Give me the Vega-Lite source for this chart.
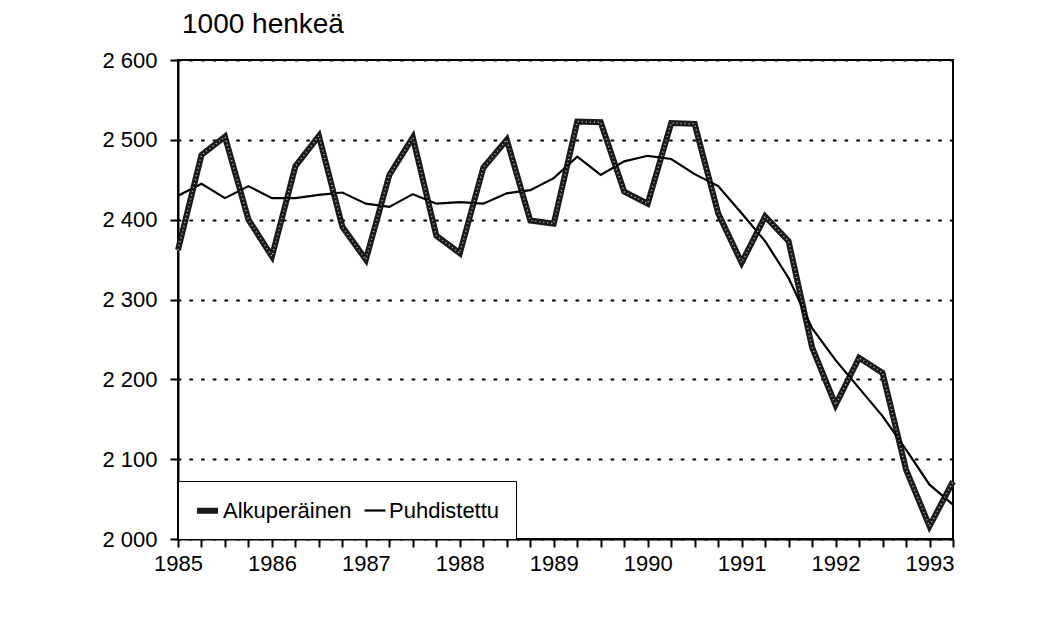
{
  "$schema": "https://vega.github.io/schema/vega-lite/v6.json",
  "width": 775,
  "height": 479,
  "autosize": {"type": "none"},
  "padding": {"left": 178, "top": 60, "right": 95, "bottom": 79},
  "background": "white",
  "title": {
    "text": "1000 henkeä",
    "anchor": "start",
    "frame": "group",
    "fontSize": 28,
    "fontWeight": "normal",
    "font": "Liberation Sans",
    "color": "black",
    "dx": 4,
    "offset": 10
  },
  "config": {
    "font": "Liberation Sans",
    "view": {"stroke": "black", "strokeWidth": 2},
    "axis": {
      "labelFont": "Liberation Sans",
      "labelFontSize": 22,
      "labelColor": "black",
      "domainColor": "black",
      "domainWidth": 2,
      "tickColor": "black",
      "tickWidth": 2,
      "tickSize": 8,
      "titleFontSize": 0
    }
  },
  "data": {
    "values": [
      {"t": 1985, "Alkuperäinen": 2362, "Puhdistettu": 2430},
      {"t": 1985.25, "Alkuperäinen": 2481, "Puhdistettu": 2445},
      {"t": 1985.5, "Alkuperäinen": 2504, "Puhdistettu": 2427},
      {"t": 1985.75, "Alkuperäinen": 2400, "Puhdistettu": 2442},
      {"t": 1986, "Alkuperäinen": 2354, "Puhdistettu": 2427},
      {"t": 1986.25, "Alkuperäinen": 2467, "Puhdistettu": 2427},
      {"t": 1986.5, "Alkuperäinen": 2505, "Puhdistettu": 2431},
      {"t": 1986.75, "Alkuperäinen": 2391, "Puhdistettu": 2434},
      {"t": 1987, "Alkuperäinen": 2350, "Puhdistettu": 2420},
      {"t": 1987.25, "Alkuperäinen": 2456, "Puhdistettu": 2416},
      {"t": 1987.5, "Alkuperäinen": 2503, "Puhdistettu": 2432},
      {"t": 1987.75, "Alkuperäinen": 2380, "Puhdistettu": 2420},
      {"t": 1988, "Alkuperäinen": 2358, "Puhdistettu": 2422},
      {"t": 1988.25, "Alkuperäinen": 2465, "Puhdistettu": 2420},
      {"t": 1988.5, "Alkuperäinen": 2500, "Puhdistettu": 2433},
      {"t": 1988.75, "Alkuperäinen": 2399, "Puhdistettu": 2437},
      {"t": 1989, "Alkuperäinen": 2395, "Puhdistettu": 2452},
      {"t": 1989.25, "Alkuperäinen": 2523, "Puhdistettu": 2479},
      {"t": 1989.5, "Alkuperäinen": 2522, "Puhdistettu": 2456},
      {"t": 1989.75, "Alkuperäinen": 2435, "Puhdistettu": 2473},
      {"t": 1990, "Alkuperäinen": 2420, "Puhdistettu": 2480},
      {"t": 1990.25, "Alkuperäinen": 2521, "Puhdistettu": 2476},
      {"t": 1990.5, "Alkuperäinen": 2520, "Puhdistettu": 2457},
      {"t": 1990.75, "Alkuperäinen": 2408, "Puhdistettu": 2442},
      {"t": 1991, "Alkuperäinen": 2346, "Puhdistettu": 2408},
      {"t": 1991.25, "Alkuperäinen": 2404, "Puhdistettu": 2373},
      {"t": 1991.5, "Alkuperäinen": 2373, "Puhdistettu": 2327},
      {"t": 1991.75, "Alkuperäinen": 2240, "Puhdistettu": 2264},
      {"t": 1992, "Alkuperäinen": 2168, "Puhdistettu": 2224},
      {"t": 1992.25, "Alkuperäinen": 2227, "Puhdistettu": 2189},
      {"t": 1992.5, "Alkuperäinen": 2208, "Puhdistettu": 2154},
      {"t": 1992.75, "Alkuperäinen": 2087, "Puhdistettu": 2112},
      {"t": 1993, "Alkuperäinen": 2016, "Puhdistettu": 2068},
      {"t": 1993.25, "Alkuperäinen": 2072, "Puhdistettu": 2043}
    ]
  },
  "transform": [
    {"fold": ["Alkuperäinen", "Puhdistettu"], "as": ["sarja", "arvo"]}
  ],
  "encoding": {
    "x": {
      "field": "t",
      "type": "quantitative",
      "scale": {"domain": [1985, 1993.25], "nice": false, "zero": false},
      "axis": {
        "title": null,
        "grid": false,
        "values": [1985, 1985.25, 1985.5, 1985.75, 1986, 1986.25, 1986.5, 1986.75, 1987, 1987.25, 1987.5, 1987.75, 1988, 1988.25, 1988.5, 1988.75, 1989, 1989.25, 1989.5, 1989.75, 1990, 1990.25, 1990.5, 1990.75, 1991, 1991.25, 1991.5, 1991.75, 1992, 1992.25, 1992.5, 1992.75, 1993, 1993.25],
        "labelExpr": "datum.value % 1 == 0 ? format(datum.value, 'd') : ''",
        "labelPadding": 6,
        "labelFlush": false,
        "labelOverlap": false
      }
    },
    "y": {
      "field": "arvo",
      "type": "quantitative",
      "scale": {"domain": [2000, 2600], "nice": false, "zero": false},
      "axis": {
        "title": null,
        "values": [2000, 2100, 2200, 2300, 2400, 2500, 2600],
        "labelExpr": "replace(format(datum.value, ','), ',', ' ')",
        "labelPadding": 13,
        "grid": true,
        "gridColor": "black",
        "gridWidth": 2,
        "gridDash": [2, 9.7],
        "gridCap": "round",
        "labelFlush": false
      }
    }
  },
  "layer": [
    {
      "mark": {"type": "line", "strokeJoin": "miter", "strokeCap": "butt"},
      "encoding": {
        "color": {
          "field": "sarja",
          "type": "nominal",
          "scale": {"domain": ["Alkuperäinen", "Puhdistettu"], "range": ["#1a1a1a", "black"]},
          "legend": {
            "title": null,
            "orient": "bottom-left",
            "direction": "horizontal",
            "offset": 0,
            "padding": 16,
            "strokeColor": "black",
            "fillColor": "white",
            "labelFontSize": 22,
            "labelColor": "black",
            "labelFont": "Liberation Sans",
            "symbolType": "stroke",
            "symbolSize": 440,
            "labelOffset": 2,
            "columnPadding": 8
          }
        },
        "strokeWidth": {
          "field": "sarja",
          "type": "nominal",
          "scale": {"domain": ["Alkuperäinen", "Puhdistettu"], "range": [6, 2.2]},
          "legend": {
            "title": null,
            "orient": "bottom-left",
            "direction": "horizontal",
            "offset": 0,
            "padding": 16,
            "strokeColor": "black",
            "fillColor": "white",
            "labelFontSize": 22,
            "labelColor": "black",
            "labelFont": "Liberation Sans",
            "symbolType": "stroke",
            "symbolSize": 440,
            "labelOffset": 2,
            "columnPadding": 8
          }
        }
      }
    },
    {
      "transform": [{"filter": "datum.sarja == 'Alkuperäinen'"}],
      "mark": {"type": "line", "color": "white", "strokeWidth": 1.5, "strokeDash": [1, 3], "opacity": 0.7},
      "encoding": {}
    }
  ]
}
